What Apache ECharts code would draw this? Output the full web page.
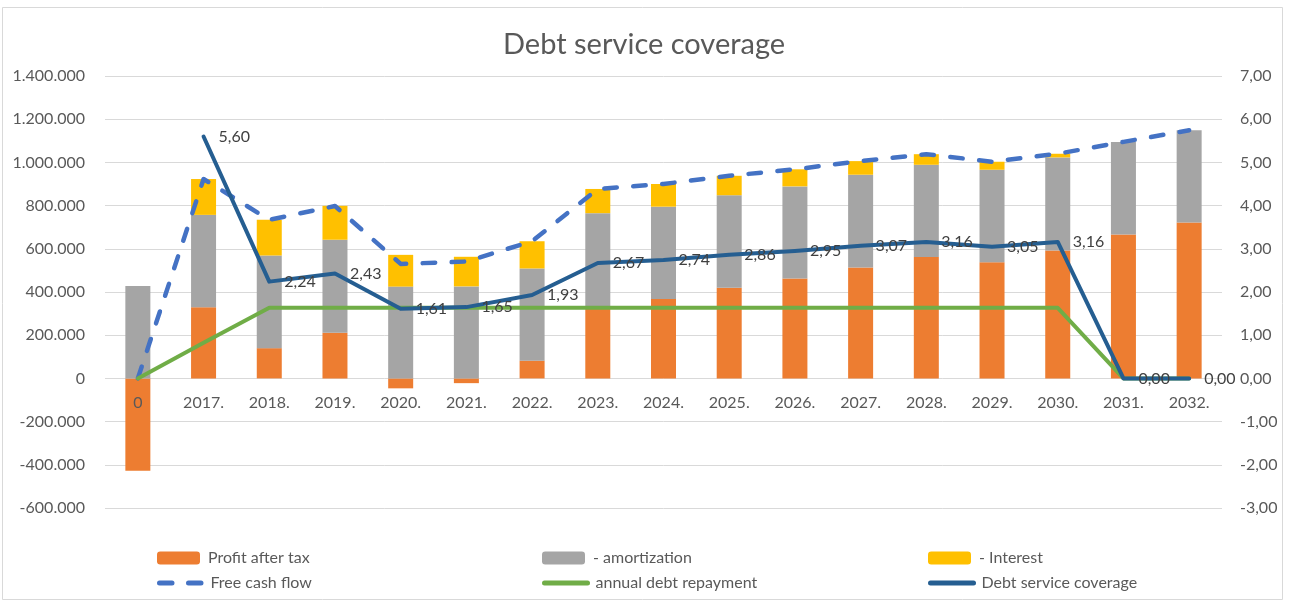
<!DOCTYPE html>
<html>
<head>
<meta charset="utf-8">
<title>Debt service coverage</title>
<script src="https://cdn.jsdelivr.net/npm/echarts@6/dist/echarts.min.js"></script>
<style>
  html, body { margin: 0; padding: 0; background: #ffffff; }
  #chart { width: 1292px; height: 605px; }
</style>
</head>
<body>
<div id="chart"></div>
<script>
// Years on the category axis
const categories = ['0', '2017.', '2018.', '2019.', '2020.', '2021.', '2022.', '2023.', '2024.',
  '2025.', '2026.', '2027.', '2028.', '2029.', '2030.', '2031.', '2032.'];

// Stacked bar components (left axis)
const profitAfterTax = [-428000, 329000, 140000, 211000, -46000, -22000, 82000, 334000, 368000,
  420000, 462000, 514000, 562000, 538000, 592000, 666000, 722000];
const amortization = [428000, 428000, 429000, 431000, 425000, 426000, 427000, 431000, 427000,
  428000, 427000, 429000, 427000, 428000, 431000, 429000, 427000];
const interest = [0, 166000, 165000, 157000, 147000, 137000, 126000, 112000, 105000,
  90000, 79000, 63000, 49000, 37000, 17000, 0, 0];

// Line series on the left axis
const freeCashFlow = [0, 923000, 734000, 798000, 530000, 541000, 635000, 877000, 900000,
  938000, 968000, 1006000, 1038000, 1003000, 1040000, 1095000, 1149000];
const annualDebtRepayment = [0, 165000, 327000, 327000, 327000, 327000, 327000, 327000, 327000,
  327000, 327000, 327000, 327000, 327000, 327000, 0, 0];

// Ratio on the right axis
const debtServiceCoverage = [null, 5.60, 2.24, 2.43, 1.61, 1.65, 1.93, 2.67, 2.74,
  2.86, 2.95, 3.07, 3.16, 3.05, 3.16, 0.00, 0.00];

// Axis ranges and tick steps
const leftTicks = { min: -600000, max: 1400000, step: 200000 };
const rightTicks = { min: -3, max: 7, step: 1 };

const FONT = 'Lato, "Open Sans", sans-serif';
const TEXT = '#595959';
const GRID = '#D9D9D9';

// Plot area
const GRID_TOP = 76, GRID_BOTTOM = 97, CHART_H = 605;
const plotHeight = CHART_H - GRID_TOP - GRID_BOTTOM;
// Category labels sit just under the zero line of the left axis
const zeroOffset = -((0 - leftTicks.min) / (leftTicks.max - leftTicks.min)) * plotHeight;

function thousands(v) {
  const s = Math.abs(Math.round(v)).toString().replace(/\B(?=(\d{3})+(?!\d))/g, '.');
  return (v < 0 ? '-' : '') + s;
}
function decimalComma(v) {
  return Number(v).toFixed(2).replace('.', ',');
}

const chart = echarts.init(document.getElementById('chart'), null, { renderer: 'canvas' });

const legendText = { color: TEXT, fontSize: 16, fontFamily: FONT, padding: [0, 0, 0, 3] };
function legendAt(name, left, top, isLine) {
  const l = {
    data: [name], left: left, top: top, padding: 0, itemWidth: 43, itemHeight: 13,
    textStyle: legendText, selectedMode: false
  };
  if (isLine) {
    l.itemStyle = { opacity: 0 };
    l.lineStyle = { width: 5 };
  }
  return l;
}

chart.setOption({
  backgroundColor: '#ffffff',
  animation: false,
  title: {
    text: 'Debt service coverage',
    left: 498,
    top: 25,
    textStyle: { color: TEXT, fontSize: 29, fontWeight: 'normal', fontFamily: FONT }
  },
  graphic: [{
    type: 'rect',
    shape: { x: 2.5, y: 7.5, width: 1280, height: 592 },
    style: { fill: 'none', stroke: '#D9D9D9', lineWidth: 1 },
    silent: true, z: -10
  }],
  legend: [
    legendAt('Profit after tax', 157, 550, false),
    legendAt('- amortization', 542, 550, false),
    legendAt('- Interest', 928, 550, false),
    legendAt('Free cash flow', 157, 575, true),
    legendAt('annual debt repayment', 542, 575, true),
    legendAt('Debt service coverage', 928, 575, true)
  ],
  grid: { left: 105, right: 70, top: GRID_TOP, bottom: GRID_BOTTOM, containLabel: false },
  xAxis: {
    type: 'category',
    data: categories,
    offset: zeroOffset,
    z: 5,
    axisLine: { show: false, onZero: false },
    axisTick: { show: false },
    axisLabel: {
      color: TEXT, fontSize: 16, fontFamily: FONT, margin: 16,
      interval: 0, showMinLabel: true, showMaxLabel: true, hideOverlap: false
    },
    splitLine: { show: false }
  },
  yAxis: [
    {
      type: 'value',
      min: leftTicks.min, max: leftTicks.max, interval: leftTicks.step,
      axisLine: { show: false }, axisTick: { show: false },
      axisLabel: { color: TEXT, fontSize: 16, fontFamily: FONT, margin: 20, formatter: thousands },
      splitLine: { lineStyle: { color: GRID, width: 1 } }
    },
    {
      type: 'value',
      min: rightTicks.min, max: rightTicks.max, interval: rightTicks.step,
      position: 'right',
      axisLine: { show: false }, axisTick: { show: false },
      axisLabel: { color: TEXT, fontSize: 16, fontFamily: FONT, margin: 18, formatter: decimalComma },
      splitLine: { show: false }
    }
  ],
  series: [
    {
      name: 'Profit after tax', type: 'bar', stack: 'cash', barWidth: 25,
      data: profitAfterTax, itemStyle: { color: '#ED7D31' }
    },
    {
      name: '- amortization', type: 'bar', stack: 'cash', barWidth: 25,
      data: amortization, itemStyle: { color: '#A5A5A5' }
    },
    {
      name: '- Interest', type: 'bar', stack: 'cash', barWidth: 25,
      data: interest, itemStyle: { color: '#FFC000' }
    },
    {
      name: 'Free cash flow', type: 'line', data: freeCashFlow, symbol: 'none',
      itemStyle: { color: '#4472C4' },
      lineStyle: { color: '#4472C4', width: 4.5, type: [12.5, 16.5], cap: 'round', join: 'round' }
    },
    {
      name: 'annual debt repayment', type: 'line', data: annualDebtRepayment, symbol: 'none',
      itemStyle: { color: '#70AD47' },
      lineStyle: { color: '#70AD47', width: 4, cap: 'round', join: 'round' }
    },
    {
      name: 'Debt service coverage', type: 'line', yAxisIndex: 1, data: debtServiceCoverage,
      symbol: 'circle', symbolSize: 2, showSymbol: true, connectNulls: false,
      itemStyle: { color: '#255E91' },
      lineStyle: { color: '#255E91', width: 4, cap: 'round', join: 'round' },
      label: {
        show: true, position: 'right', distance: 14,
        color: '#404040', fontSize: 16, fontFamily: FONT,
        formatter: p => decimalComma(p.value)
      }
    }
  ]
});
</script>
</body>
</html>
